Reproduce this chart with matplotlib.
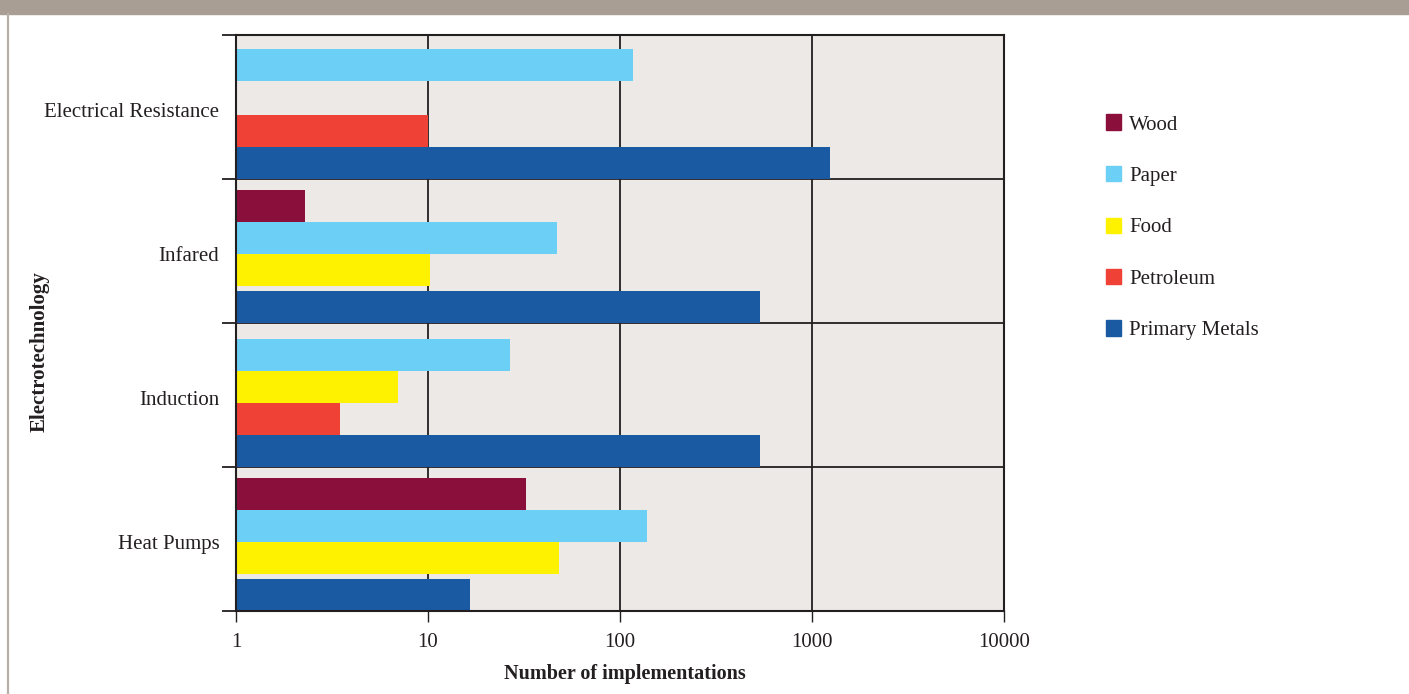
import numpy as np
import matplotlib.pyplot as plt
from matplotlib.patches import Rectangle
from matplotlib.lines import Line2D
from matplotlib.transforms import ScaledTranslation

# ---- data -------------------------------------------------------------
categories = ["Electrical Resistance", "Infared", "Induction", "Heat Pumps"]
wood = [np.nan, 2.3, np.nan, 32.5]
paper = [117, 47, 26.7, 138]
food = [np.nan, 10.2, 6.95, 48]
petroleum = [10, np.nan, 3.5, np.nan]
primary_metals = [1240, 536, 536, 16.5]
series_names = ["Wood", "Paper", "Food", "Petroleum", "Primary Metals"]
x_ticks = [1, 10, 100, 1000, 10000]
x_tick_labels = ["1", "10", "100", "1000", "10000"]

# ---- style ------------------------------------------------------------
colors = {
    "Wood": "#8a0f3b",
    "Paper": "#6bcff6",
    "Food": "#fff200",
    "Petroleum": "#ef4136",
    "Primary Metals": "#1a5aa2",
}
ink = "#231f20"
font = "Liberation Serif"
W, H = 1409, 694

series = {
    "Wood": wood,
    "Paper": paper,
    "Food": food,
    "Petroleum": petroleum,
    "Primary Metals": primary_metals,
}
# bars are stacked from the bottom of each band in this order
stack_order = ["Primary Metals", "Petroleum", "Food", "Paper", "Wood"]
band_px = 144.0
bar_px = 32.0
# space kept for a series that is absent from a band
absent_px = {"Primary Metals": 0, "Petroleum": 5, "Food": 34, "Paper": 0, "Wood": 0}

fig = plt.figure(figsize=(W / 100, H / 100), dpi=100)
fig.patch.set_facecolor("white")

# header band and left rule
fig.patches.append(Rectangle((0, 1 - 14 / H), 1, 14 / H, transform=fig.transFigure,
                             color="#a99e93", zorder=0))
fig.lines.append(Line2D([8 / W, 8 / W], [0, 1 - 14 / H], transform=fig.transFigure,
                        color="#b8afa6", lw=1.6))

ax = fig.add_axes([236 / W, 83 / H, 768 / W, 576 / H])
ax.set_facecolor("#ede9e6")
ax.set_xscale("log")
ax.set_xlim(1, 10000)
n = len(categories)
ax.set_ylim(0, n)

for i, cat in enumerate(categories):
    base = n - 1 - i
    offset = 0.0
    for name in stack_order:
        v = series[name][i]
        if np.isnan(v):
            offset += absent_px[name]
            continue
        y0 = base + offset / band_px
        ax.barh(y0, v - 1, left=1, height=bar_px / band_px, align="edge",
                color=colors[name], linewidth=0, zorder=3)
        offset += bar_px

# grid
for xv in x_ticks[1:-1]:
    ax.axvline(xv, color=ink, lw=1.3, zorder=1)
for yv in range(1, n):
    ax.axhline(yv, color=ink, lw=1.3, zorder=1)

for s in ax.spines.values():
    s.set_color(ink)
    s.set_linewidth(1.5)
    s.set_zorder(5)

ax.set_xticks(x_ticks)
ax.set_xticklabels(x_tick_labels, fontfamily=font, fontsize=15, color=ink)
ax.xaxis.set_minor_locator(plt.NullLocator())
ax.tick_params(axis="x", which="major", direction="out", length=8, width=1.0,
               color=ink, pad=8)

ax.set_yticks(range(n + 1))
ax.set_yticklabels([])
ax.set_yticks([n - 1 - i + 0.5 for i in range(n)], minor=True)
ax.set_yticklabels(categories, minor=True, fontfamily=font, fontsize=15, color=ink)
ax.tick_params(axis="y", which="minor", length=0, pad=12)
ax.tick_params(axis="y", which="major", direction="out", length=10, width=1.3, color=ink)
shift = ScaledTranslation(0, -3 / 100, fig.dpi_scale_trans)
for lab in ax.get_yticklabels(minor=True):
    lab.set_transform(lab.get_transform() + shift)

fig.text(625 / W, 1 - 674 / H, "Number of implementations", fontfamily=font,
         fontsize=14.5, fontweight="bold", color=ink, ha="center", va="center")
fig.text(40 / W, 1 - 352 / H, "Electrotechnology", fontfamily=font, fontsize=15,
         fontweight="bold", color=ink, rotation=90, ha="center", va="center")

# legend
for k, name in enumerate(series_names):
    yc = 122 + k * 51.5
    fig.patches.append(Rectangle((1106 / W, 1 - (yc + 7.5) / H), 15 / W, 15 / H,
                                 transform=fig.transFigure, color=colors[name]))
    fig.text(1129 / W, 1 - (yc + 3) / H, name, fontfamily=font, fontsize=15, color=ink,
             ha="left", va="center")

fig.savefig("out.png", dpi=100)
